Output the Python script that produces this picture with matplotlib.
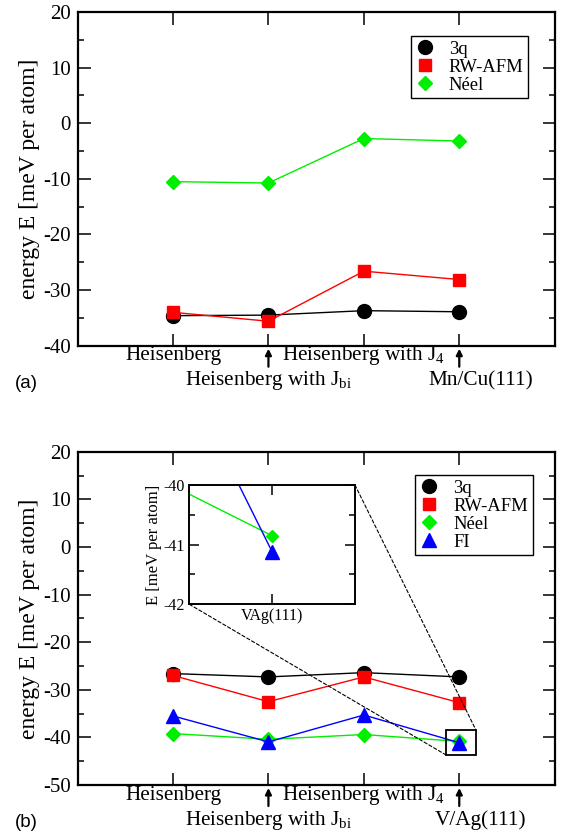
import matplotlib
matplotlib.use('Agg')
import matplotlib.pyplot as plt
from matplotlib.patches import Rectangle, ConnectionPatch
from matplotlib.ticker import MultipleLocator

# data
x_pos = [1, 2, 3, 4]
mn_labels = ['Heisenberg', 'Heisenberg with J$_{\\mathrm{bi}}$',
             'Heisenberg with J$_{4}$', 'Mn/Cu(111)']
v_labels = ['Heisenberg', 'Heisenberg with J$_{\\mathrm{bi}}$',
            'Heisenberg with J$_{4}$', 'V/Ag(111)']
series_names = ['3q', 'RW-AFM', 'N\u00e9el', 'FI']

mn_3q = [-34.6, -34.5, -33.7, -33.9]
mn_rw = [-34.0, -35.6, -26.6, -28.1]
mn_neel = [-10.5, -10.75, -2.75, -3.2]

v_3q = [-26.6, -27.3, -26.4, -27.3]
v_rw = [-27.0, -32.5, -27.3, -32.7]
v_neel = [-39.2, -40.4, -39.4, -40.85]
v_fi = [-35.5, -40.95, -35.3, -41.12]

plt.rcParams['font.family'] = 'Liberation Serif'
plt.rcParams['mathtext.fontset'] = 'custom'
plt.rcParams['mathtext.rm'] = 'Liberation Serif'
plt.rcParams['mathtext.it'] = 'Liberation Serif:italic'
plt.rcParams['axes.unicode_minus'] = False

styles = [dict(color='black', marker='o', ms=10),
          dict(color='red', marker='s', ms=9),
          dict(color='#00ee00', marker='D', ms=6.8),
          dict(color='blue', marker='^', ms=10.5)]

W, H = 563, 838
fig = plt.figure(figsize=(W / 100, H / 100), dpi=100)


def px_axes(left, top, right, bottom):
    return fig.add_axes([left / W, 1 - bottom / H, (right - left) / W, (bottom - top) / H])


def style_axes(ax, ylim, major, minor, lw=1.6, size=15):
    ax.set_ylim(*ylim)
    ax.yaxis.set_major_locator(MultipleLocator(major))
    ax.yaxis.set_minor_locator(MultipleLocator(minor))
    ax.tick_params(which='both', direction='in', top=True, right=True, width=1.1)
    ax.tick_params(which='major', length=9, labelsize=size, pad=5)
    ax.tick_params(which='minor', length=4.5)
    for s in ax.spines.values():
        s.set_linewidth(lw)


def draw_panel(ax, data, labels, ylim, legend_anchor, tag):
    for vals, name, st in zip(data, series_names, styles):
        ax.plot(x_pos, vals, lw=1.0, label=name, mec=st['color'], **st)
    ax.set_xlim(0, 5)
    style_axes(ax, ylim, 10, 5)
    ax.set_xticks(x_pos)
    ax.set_xticklabels([])
    ax.set_ylabel('energy E [meV per atom]', fontsize=17, labelpad=2)
    hpx = ax.get_position().height * H
    # two rows of model labels, arrows mark the second row
    for i, (xv, lab) in enumerate(zip(x_pos, labels)):
        row = i % 2
        dx = 21 if i == 3 else 0
        ax.annotate(lab, xy=(xv, 0), xycoords=('data', 'axes fraction'),
                    xytext=(dx * 0.72, -(10 + 25 * row) * 0.72), textcoords='offset points',
                    ha='center', va='center', fontsize=15.3, annotation_clip=False)
        if row == 1:
            ax.annotate('', xy=(xv, -3 / hpx), xycoords=('data', 'axes fraction'),
                        xytext=(xv, -21 / hpx), textcoords=('data', 'axes fraction'),
                        arrowprops=dict(arrowstyle='-|>', lw=1.6, color='black',
                                        mutation_scale=9, shrinkA=0, shrinkB=0),
                        annotation_clip=False)
    leg = ax.legend(loc='upper right', bbox_to_anchor=legend_anchor, borderaxespad=0,
                    fancybox=False, framealpha=1, edgecolor='black', fontsize=13.4,
                    handlelength=1.0, handletextpad=0.8, borderpad=0.25,
                    labelspacing=0.05, numpoints=1)
    leg.get_frame().set_linewidth(1.0)
    for line in leg.get_lines():
        line.set_linestyle('none')
    ax.text(-0.107, -0.113, tag, transform=ax.transAxes, fontsize=13.5,
            family='Liberation Sans', ha='center', va='center')


ax1 = px_axes(77.6, 12, 554.7, 345.7)
draw_panel(ax1, [mn_3q, mn_rw, mn_neel], mn_labels, (-40, 20), (0.9447, 0.928), '(a)')

ax2 = px_axes(77.6, 451.7, 554.7, 785)
draw_panel(ax2, [v_3q, v_rw, v_neel, v_fi], v_labels, (-50, 20), (0.954, 0.930), '(b)')

# zoom box and inset
box = Rectangle((3.862, -43.7), 0.311, 5.3, fill=False, ec='black', lw=1.3, zorder=5)
ax2.add_patch(box)

axin = px_axes(189.3, 485, 355, 604.3)
for vals, st in zip([v_3q, v_rw, v_neel, v_fi], styles):
    axin.plot(x_pos, vals, lw=1.0, mec=st['color'], **{**st, 'ms': st['ms'] * 0.9})
axin.set_xlim(3.52, 4.48)
style_axes(axin, (-42, -40), 1, 0.5, lw=1.4, size=11.5)
axin.tick_params(which='major', length=7, pad=3)
axin.tick_params(which='minor', length=4)
axin.set_xticks([4])
axin.set_xticklabels(['VAg(111)'])
axin.set_ylabel('E [meV per atom]', fontsize=12, labelpad=1)

for xa, xb in [((1, 1), (4.173, -38.4)), ((0, 0), (3.862, -43.7))]:
    con = ConnectionPatch(xyA=xa, coordsA=axin.transAxes, xyB=xb, coordsB=ax2.transData,
                          ls=(0, (3, 2)), lw=0.8, color='black')
    fig.add_artist(con)

fig.savefig('out.png', dpi=100)
